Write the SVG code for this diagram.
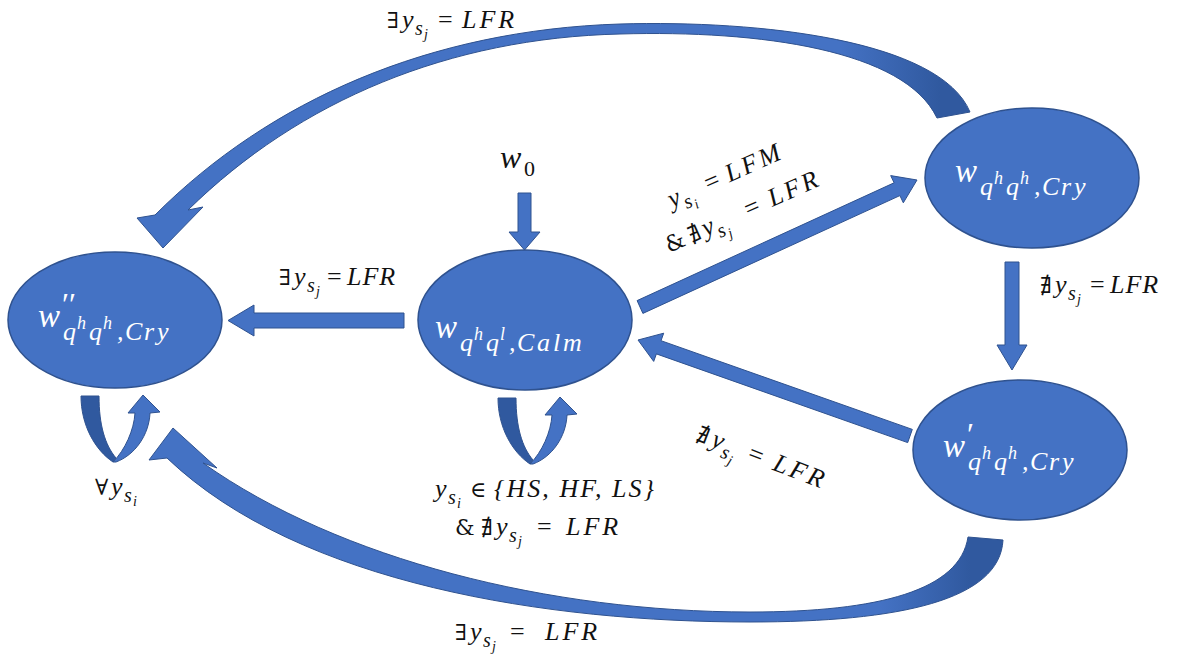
<svg xmlns="http://www.w3.org/2000/svg" width="1190" height="655" viewBox="0 0 1190 655">
<style>
.node{fill:#4472C4;stroke:#2F528F;stroke-width:1.5}
.arr{fill:#4472C4;stroke:#2F528F;stroke-width:1}
.dark{fill:#30599F;stroke:#2F528F;stroke-width:1}
.m{font-family:"Liberation Serif","DejaVu Serif",serif;font-style:italic;font-size:26px;fill:#111}
.u{font-style:normal}
.q{font-family:"DejaVu Serif","Liberation Serif",serif;font-style:normal;font-size:22px}
.sb{font-size:20px}
.ss{font-size:14px}
.w{font-family:"Liberation Serif","DejaVu Serif",serif;font-style:italic;fill:#fff}
.wb{font-size:33px}
.wq{font-size:26px}
.wh{font-size:18px}
</style>
<defs>
<linearGradient id="gTop" gradientUnits="userSpaceOnUse" x1="840" y1="0" x2="940" y2="0">
<stop offset="0" stop-color="#4472C4"/><stop offset="1" stop-color="#30599F"/>
</linearGradient>
<linearGradient id="gBot" gradientUnits="userSpaceOnUse" x1="880" y1="0" x2="970" y2="0">
<stop offset="0" stop-color="#4472C4"/><stop offset="1" stop-color="#30599F"/>
</linearGradient>
<g id="loop">
<path class="dark" d="M81 396 L99 396 C99 425 105 445 116 458 L113 462 C95 450 81 425 81 396 Z"/>
<path class="arr" d="M113 462 C125 450 134 430 135 413 L128 413 L143 395 L160 412 L150 413 C149 435 135 455 116 462 Z"/>
</g>
</defs>

<g id="connectors">
<polygon class="arr" points="518,193 531,193 531,232 540,232 524.5,250 509,232 518,232"/>
<polygon class="arr" points="404,313 404,328 254,328 254,336 228,320.5 254,305 254,313"/>
<polygon class="arr" points="637.1,300.6 894.1,182.8 890.7,175.6 917,180 903.3,202.8 899.9,195.6 642.9,313.4"/>
<polygon class="arr" points="1005,262 1019,262 1019,345 1027,345 1012,370 997,345 1005,345"/>
<polygon class="arr" points="912.3,429.4 661,340.7 663.7,333.2 638,340 653.7,361.4 656.4,353.9 907.7,442.6"/>
<path fill="url(#gTop)" stroke="#2F528F" stroke-width="1" d="M970 112 C940 40 760 20 620 24 C430 30 270 100 155 215 L137 218 L163 248 L203 207 L188 210 C300 100 450 38 620 34 C760 30 905 50 937 118 Z"/>
<path fill="url(#gBot)" stroke="#2F528F" stroke-width="1" d="M1003 540 C1000 600 900 622 750 622 C550 622 300 585 167 458 L149 460 L173 428 L217 468 L203 463 C340 560 550 612 750 612 C880 612 960 590 968 537 Z"/>
<use href="#loop"/>
<use href="#loop" transform="translate(417,2)"/>
</g>

<g id="n-left">
<ellipse class="node" cx="115" cy="320" rx="107" ry="68"/>
<text class="w"><tspan class="wb" x="38" y="327">w</tspan><tspan class="u" font-size="32" x="62" y="315">′′</tspan><tspan class="wq" x="63" y="340">q</tspan><tspan class="wh" x="77" y="329">h</tspan><tspan class="wq" x="89" y="340">q</tspan><tspan class="wh" x="103" y="329">h</tspan><tspan class="wq" x="117 125 144 157" y="340">,Cry</tspan></text>
</g>

<g id="n-calm">
<ellipse class="node" cx="525" cy="320" rx="107" ry="70"/>
<text class="w"><tspan class="wb" x="435" y="338">w</tspan><tspan class="wq" x="460" y="351">q</tspan><tspan class="wh" x="474" y="340">h</tspan><tspan class="wq" x="486" y="351">q</tspan><tspan class="wh" x="500" y="340">l</tspan><tspan class="wq" x="509 517 537 553 563" y="351">,Calm</tspan></text>
</g>

<g id="n-cry">
<ellipse class="node" cx="1032" cy="178" rx="107" ry="70"/>
<text class="w"><tspan class="wb" x="955" y="182">w</tspan><tspan class="wq" x="980" y="195">q</tspan><tspan class="wh" x="994" y="184">h</tspan><tspan class="wq" x="1006" y="195">q</tspan><tspan class="wh" x="1020" y="184">h</tspan><tspan class="wq" x="1034 1042 1061 1074" y="195">,Cry</tspan></text>
</g>

<g id="n-cry1">
<ellipse class="node" cx="1020" cy="450" rx="107" ry="70"/>
<text class="w"><tspan class="wb" x="943" y="457">w</tspan><tspan class="u" font-size="32" x="967" y="445">′</tspan><tspan class="wq" x="968" y="470">q</tspan><tspan class="wh" x="982" y="459">h</tspan><tspan class="wq" x="994" y="470">q</tspan><tspan class="wh" x="1008" y="459">h</tspan><tspan class="wq" x="1022 1030 1049 1062" y="470">,Cry</tspan></text>
</g>

<g id="labels">
<text class="m"><tspan font-size="32" x="500" y="168">w</tspan><tspan class="u" font-size="22" x="524" y="176">0</tspan></text>
<text class="m"><tspan class="q" x="387" y="28">∃</tspan><tspan x="402" y="28">y</tspan><tspan class="sb" x="415" y="35">s</tspan><tspan class="ss" x="424" y="39">j</tspan><tspan class="u" x="438" y="28">=</tspan><tspan x="462" y="28" letter-spacing="3">LFR</tspan></text>
<text class="m"><tspan class="q" x="279" y="285">∃</tspan><tspan x="294" y="285">y</tspan><tspan class="sb" x="307" y="292">s</tspan><tspan class="ss" x="316" y="296">j</tspan><tspan class="u" x="327" y="285">=</tspan><tspan x="347" y="285" letter-spacing="1">LFR</tspan></text>
<text class="m"><tspan class="q" x="1040" y="293">∄</tspan><tspan x="1055" y="293">y</tspan><tspan class="sb" x="1068" y="300">s</tspan><tspan class="ss" x="1077" y="304">j</tspan><tspan class="u" x="1090" y="293">=</tspan><tspan x="1110" y="293" letter-spacing="1">LFR</tspan></text>
<text class="m"><tspan class="q" x="455" y="640">∃</tspan><tspan x="470" y="640">y</tspan><tspan class="sb" x="483" y="647">s</tspan><tspan class="ss" x="492" y="651">j</tspan><tspan class="u" x="510" y="640">=</tspan><tspan x="545" y="640" letter-spacing="3">LFR</tspan></text>
<text class="m"><tspan class="q" x="95" y="495">∀</tspan><tspan x="111" y="495">y</tspan><tspan class="sb" x="124" y="502">s</tspan><tspan class="ss" x="133" y="506">i</tspan></text>
<text class="m"><tspan x="435" y="497">y</tspan><tspan class="sb" x="448" y="504">s</tspan><tspan class="ss" x="457" y="508">i</tspan><tspan class="q" x="470" y="497">∈</tspan></text>
<text class="m" x="494" y="497" textLength="160" lengthAdjust="spacing">{HS, HF, LS}</text>
<text class="m"><tspan class="q" x="455" y="535">&amp;</tspan><tspan class="q" x="481" y="535">∄</tspan><tspan x="496" y="535">y</tspan><tspan class="sb" x="509" y="542">s</tspan><tspan class="ss" x="518" y="546">j</tspan><tspan class="u" x="537" y="535">=</tspan><tspan x="566" y="535" letter-spacing="3">LFR</tspan></text>
<g transform="translate(672,208) rotate(-24)">
<text class="m"><tspan x="0" y="0">y</tspan><tspan class="sb" x="13" y="7">s</tspan><tspan class="ss" x="22" y="11">i</tspan><tspan class="u" x="40" y="0">=</tspan><tspan x="63" y="0" letter-spacing="3">LFM</tspan></text>
<text class="m"><tspan class="q" x="-21" y="40">&amp;</tspan><tspan class="q" x="4" y="40">∄</tspan><tspan x="19" y="40">y</tspan><tspan class="sb" x="32" y="47">s</tspan><tspan class="ss" x="41" y="51">j</tspan><tspan class="u" x="66" y="40">=</tspan><tspan x="92" y="40" letter-spacing="3">LFR</tspan></text>
</g>
<g transform="translate(695,440) rotate(21)">
<text class="m"><tspan class="q" x="0" y="0">∄</tspan><tspan x="16" y="0">y</tspan><tspan class="sb" x="29" y="7">s</tspan><tspan class="ss" x="38" y="11">j</tspan><tspan class="u" x="55" y="0">=</tspan><tspan x="82" y="0" letter-spacing="3">LFR</tspan></text>
</g>
</g>
</svg>
